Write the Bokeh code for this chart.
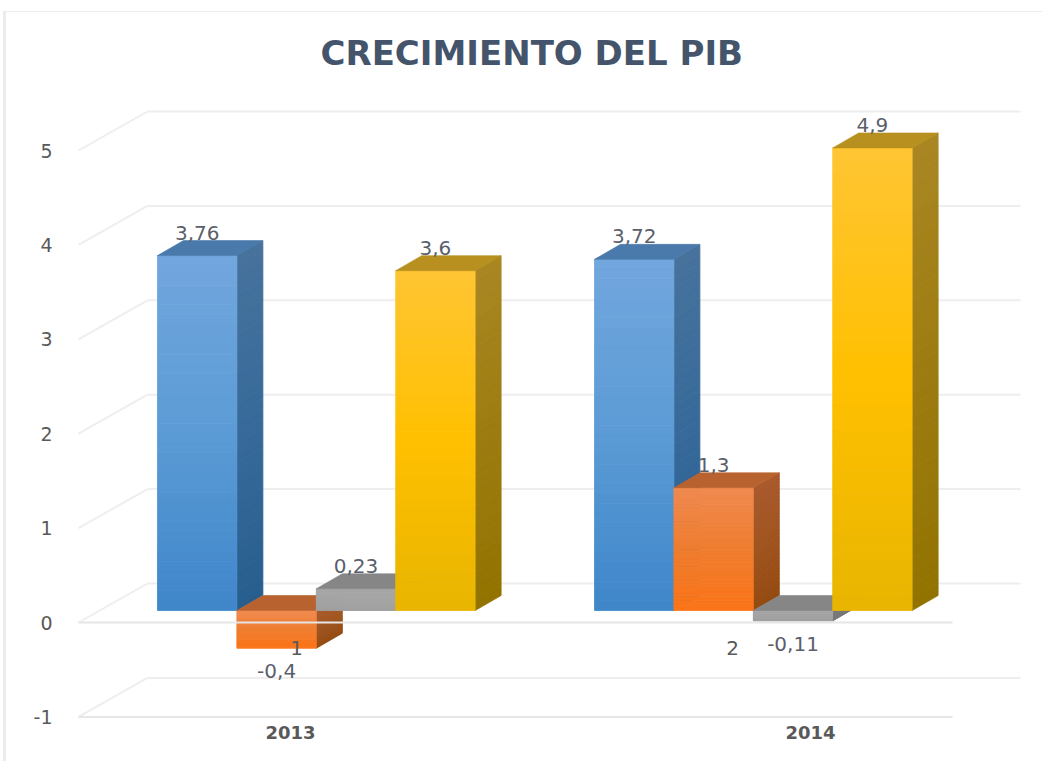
from bokeh.plotting import figure
from bokeh.models import FixedTicker, Range1d, Title
from bokeh.core.properties import value
from bokeh.embed import file_html
from bokeh.resources import INLINE

TITLE = "CRECIMIENTO DEL PIB"
YEARS = ["2013", "2014"]
SERIES_1 = [3.76, 3.72]
SERIES_2 = [-0.4, 1.3]
SERIES_3 = [0.23, -0.11]
SERIES_4 = [3.6, 4.9]
LABELS_1 = ["3,76", "3,72"]
LABELS_2 = ["-0,4", "1,3"]
LABELS_3 = ["0,23", "-0,11"]
LABELS_4 = ["3,6", "4,9"]
STRAY_LABELS = ["1", "2"]
Y_TICKS = [-1, 0, 1, 2, 3, 4, 5]

# colours: (gradient top, middle, bottom) for front and side, plus top face
STYLES = [
    (("#72a6de", "#5b9bd5", "#3f86ca"), ("#46729c", "#376a9a", "#275e8e"), "#4a79ab"),
    (("#f08a50", "#ef7d2f", "#fb7418"), ("#a9592c", "#a0541f", "#934a10"), "#b8632f"),
    (("#a8a8a8", "#a5a5a5", "#a0a0a0"), ("#7c7c7c", "#7a7a7a", "#787878"), "#868686"),
    (("#ffc533", "#ffc000", "#e8b500"), ("#a98622", "#9c7c10", "#927300"), "#b8901f"),
]

PX_PER_UNIT = 94.4
PX_PER_SLOT = 79.4
CANVAS_L, CANVAS_T = 6, 12
FRAME_L, FRAME_R, FRAME_T, FRAME_B = 70, 1045, 72, 722
X0, Y0 = 157, 622  # reference pixel of slot 0 / of value 0 on the front plane


def sx(px):
    return (px - X0) / PX_PER_SLOT


def dy(px):
    return px / PX_PER_UNIT


GROUP_PITCH = sx(594)
FLOOR = dy(12)
DX, DY = 26 / PX_PER_SLOT, dy(15)
WALL_X, WALL_Y = 69 / PX_PER_SLOT, dy(39)

p = figure(width=FRAME_R - CANVAS_L, height=750, output_backend="svg", toolbar_location=None,
           x_range=Range1d(sx(FRAME_L), sx(FRAME_R)),
           y_range=Range1d((Y0 - FRAME_B) / PX_PER_UNIT, (Y0 - FRAME_T) / PX_PER_UNIT),
           min_border_left=FRAME_L - CANVAS_L, min_border_right=0,
           min_border_top=FRAME_T - CANVAS_T, min_border_bottom=CANVAS_T + 750 - FRAME_B)
p.margin = (CANVAS_T, 0, 0, CANVAS_L)
p.styles = {"box-shadow": "-3px -1px 0 0 #ececec"}
p.outline_line_color = None
p.background_fill_color = "white"
p.border_fill_color = "white"
p.xgrid.visible = False
p.ygrid.visible = False

p.title = Title(text=TITLE, align="left", offset=250, text_font="DejaVu Sans", text_font_style="bold",
                text_font_size="34px", text_color="#44546a", standoff=0)

ya = p.yaxis[0]
ya.ticker = FixedTicker(ticks=Y_TICKS)
ya.major_label_overrides = {-1: "-1"}
ya.axis_line_color = None
ya.major_tick_line_color = None
ya.minor_tick_line_color = None
ya.major_tick_out = 0
ya.major_tick_in = 0
ya.major_label_standoff = 18
ya.major_label_text_font = "DejaVu Sans"
ya.major_label_text_font_size = "19px"
ya.major_label_text_color = "#595959"

xa = p.xaxis[0]
xa.ticker = FixedTicker(ticks=[sx(290), sx(810)])
xa.major_label_overrides = {sx(290): YEARS[0], sx(810): YEARS[1]}
xa.axis_line_color = None
xa.major_tick_line_color = None
xa.minor_tick_line_color = None
xa.major_tick_out = 0
xa.major_tick_in = 0
xa.major_label_standoff = 3
xa.major_label_text_font = "DejaVu Sans"
xa.major_label_text_font_style = "bold"
xa.major_label_text_font_size = "18px"
xa.major_label_text_color = "#595959"

# walls
GRID = "#eeeeee"
x_front_l, x_front_r = sx(78), sx(952)
x_back_l, x_back_r = x_front_l + WALL_X, sx(1020)
p.segment([x_back_l] * len(Y_TICKS), [v + WALL_Y for v in Y_TICKS],
          [x_back_r] * len(Y_TICKS), [v + WALL_Y for v in Y_TICKS], line_color=GRID, line_width=2)
p.segment([x_front_l] * len(Y_TICKS), Y_TICKS,
          [x_back_l] * len(Y_TICKS), [v + WALL_Y for v in Y_TICKS], line_color=GRID, line_width=2)


def hex2(c):
    return [int(c[i:i + 2], 16) for i in (1, 3, 5)]


def shade(stops, f):
    a, b = (stops[0], stops[1]) if f < 0.5 else (stops[1], stops[2])
    t = f * 2 if f < 0.5 else (f - 0.5) * 2
    return "#%02x%02x%02x" % tuple(round(u + (w - u) * t) for u, w in zip(hex2(a), hex2(b)))


def bar(x, v, style):
    front, side, topc = style
    base = FLOOR
    y_hi, y_lo = base + max(v, 0), base + min(v, 0)
    n = 36
    step = (y_hi - y_lo) / n
    for i in range(n):
        y1 = y_hi - step * i
        y2 = y_hi - step * (i + 1)
        c = shade(side, (i + .5) / n)
        p.patch([x + 1, x + 1 + DX, x + 1 + DX, x + 1], [y1, y1 + DY, y2 + DY, y2],
                fill_color=c, line_color=c, line_width=0.8)
    for i in range(n):
        y1 = y_hi - step * i
        y2 = y_hi - step * (i + 1)
        c = shade(front, (i + .5) / n)
        p.quad(left=x, right=x + 1, top=y1, bottom=y2, fill_color=c, line_color=c, line_width=0.8)
    p.patch([x, x + DX, x + 1 + DX, x + 1], [y_hi, y_hi + DY, y_hi + DY, y_hi],
            fill_color=topc, line_color=topc, line_width=0.6)


ALL = [SERIES_1, SERIES_2, SERIES_3, SERIES_4]
TEXTS = [LABELS_1, LABELS_2, LABELS_3, LABELS_4]
lab_x, lab_y, lab_t, lab_off = [], [], [], []
for g in range(len(YEARS)):
    for s, (vals, txts) in enumerate(zip(ALL, TEXTS)):
        x = g * GROUP_PITCH + s
        v = vals[g]
        bar(x, v, STYLES[s])
        lab_x.append(x + 0.5)
        lab_y.append(FLOOR + v)
        lab_t.append(txts[g])
        lab_off.append(-23 if v >= 0 else 23)

# front floor lines are drawn over the bars, as in the original
p.segment([x_front_l] * 2, [0, -1], [x_front_r] * 2, [0, -1], line_color="#e6e6e6", line_width=2)

FONT = value("DejaVu Sans")
p.text(lab_x, lab_y, text=lab_t, y_offset=lab_off, text_align="center", text_baseline="middle",
       text_font=FONT, text_font_size="20px", text_color="#5a5f6b")
p.text([sx(296), sx(732)], [-0.275, -0.265], text=STRAY_LABELS, text_align="center", text_baseline="middle",
       text_font=FONT, text_font_size="20px", text_color="#595959")

open("out.html", "w").write(file_html(p, INLINE))
